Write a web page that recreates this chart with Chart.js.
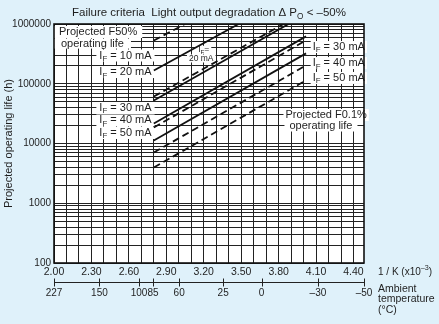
<!DOCTYPE html>
<html><head><meta charset="utf-8">
<script src="https://cdn.jsdelivr.net/npm/chart.js@4/dist/chart.umd.min.js"></script>
<style>
html,body{margin:0;padding:0;background:#dff1fa;}
#wrap{position:relative;width:439px;height:324px;}
</style></head>
<body><div id="wrap"><canvas id="c" width="439" height="324"></canvas></div>
<script>
// ---- data ----
const xTickLabels = ['2.00','2.30','2.60','2.90','3.20','3.50','3.80','4.10','4.40'];
const yTickLabels = ['100','1000','10000','100000','1000000'];
const tempValues = [227,150,100,85,60,25,0,-30,-50];
const tempLabels = ['227','150','100','85','60','25','0','–30','–50'];

// F50% projected life (solid lines): [start, end] in 1/K (x10^-3) and hours
const f50Currents = ['20 mA','30 mA','40 mA','50 mA'];
const f50X    = [[2.80,3.48],[2.80,3.88],[2.80,4.02],[2.80,4.02]];
const f50Life = [[167000,1000000],[52500,1000000],[21600,621000],[11200,322000]];

// F0.1% projected life (dashed lines)
const f01Currents = ['10 mA','20 mA','30 mA','40 mA','50 mA'];
const f01X    = [[2.80,3.05],[2.80,3.84],[2.80,4.02],[2.80,4.02],[2.80,4.02]];
const f01Life = [[530000,1000000],[61000,1000000],[18500,532000],[7060,203000],[3960,114000]];

// ---- helpers ----
const FAM = '"Liberation Sans", Arial, Helvetica, sans-serif';
const TXT = '#1e1e1e';
function fnt(s){ return s + 'px ' + FAM; }
function richWidth(ctx, parts, size){
  let w = 0;
  for (const [t,m] of parts){ ctx.font = fnt(m ? size*0.72 : size); w += ctx.measureText(t).width; }
  return w;
}
function drawRich(ctx, parts, x, y, size, align, box){
  const w = richWidth(ctx, parts, size);
  let sx = align === 'left' ? x : align === 'right' ? x - w : x - w/2;
  if (box){ ctx.fillStyle = '#fff'; ctx.fillRect(sx - box[0], y - box[1], w + 2*box[0], 2*box[1]); }
  ctx.fillStyle = TXT; ctx.textBaseline = 'middle'; ctx.textAlign = 'left';
  for (const [t,m] of parts){
    const s = m ? size*0.72 : size;
    ctx.font = fnt(s);
    const dy = m === 1 ? size*0.3 : m === 2 ? -size*0.35 : 0;
    ctx.fillText(t, sx, y + dy);
    sx += ctx.measureText(t).width;
  }
}
const IF = (v) => [['I',0],['F',1],[' = ' + v,0]];

// text annotations placed in data coordinates
const annotations = [
  {parts:[['Projected F50%',0]], x:2.04,  y:735000, align:'left',  size:11, box:[5,6]},
  {parts:[['operating life',0]], x:2.056, y:470000, align:'left',  size:11, box:[7,5]},
  {parts:IF('10 mA'), x:2.782, y:297000, align:'right', size:11, box:[3,6]},
  {parts:IF('20 mA'), x:2.782, y:157000, align:'right', size:11, box:[3,6]},
  {parts:IF('30 mA'), x:2.782, y:39300,  align:'right', size:11, box:[3,6]},
  {parts:IF('40 mA'), x:2.782, y:24300,  align:'right', size:11, box:[3,6]},
  {parts:IF('50 mA'), x:2.782, y:15000,  align:'right', size:11, box:[3,6]},
  {parts:[['I',0],['F',1],['=',0]], x:3.20, y:370000, align:'center', size:8.5, box:[2,4]},
  {parts:[['20 mA',0]], x:3.18, y:265000, align:'center', size:8.5, box:[2,4]},
  {parts:IF('30 mA'), x:4.073, y:412000, align:'left', size:11, box:[2,6]},
  {parts:IF('40 mA'), x:4.073, y:222000, align:'left', size:11, box:[2,6]},
  {parts:IF('50 mA'), x:4.073, y:125000, align:'left', size:11, box:[2,6]},
  {parts:[['Projected F0.1%',0]], x:3.855, y:30000, align:'left', size:11, box:[2,6]},
  {parts:[['operating life',0]], x:3.887, y:20000, align:'left', size:11, box:[5,6]}
];

// ---- datasets ----
const datasets = [];
f50Currents.forEach((c,i) => datasets.push({
  label:'F50% ' + c,
  data:[{x:f50X[i][0], y:f50Life[i][0]}, {x:f50X[i][1], y:f50Life[i][1]}],
  borderColor:'#111', borderWidth:1.8, pointRadius:0, showLine:true, clip:0
}));
f01Currents.forEach((c,i) => datasets.push({
  label:'F0.1% ' + c,
  data:[{x:f01X[i][0], y:f01Life[i][0]}, {x:f01X[i][1], y:f01Life[i][1]}],
  borderColor:'#111', borderWidth:1.8, borderDash:[7,4], pointRadius:0, showLine:true, clip:0
}));

const decor = {
  id:'decor',
  beforeDraw(chart){
    const {ctx, chartArea:a} = chart;
    ctx.save();
    ctx.fillStyle = '#dff1fa'; ctx.fillRect(0,0,chart.width,chart.height);
    ctx.fillStyle = '#fff'; ctx.fillRect(a.left, a.top, a.right-a.left, a.bottom-a.top);
    ctx.restore();
  },
  beforeDatasetsDraw(chart){
    const {ctx} = chart, xs = chart.scales.x, ys = chart.scales.y;
    ctx.save();
    for (const an of annotations){
      drawRich(ctx, an.parts, xs.getPixelForValue(an.x), ys.getPixelForValue(an.y), an.size, an.align, an.box);
    }
    ctx.restore();
  },
  afterDatasetsDraw(chart){
    const {ctx, chartArea:a} = chart;
    ctx.save();
    ctx.strokeStyle = '#111'; ctx.lineWidth = 1.6;
    ctx.strokeRect(a.left, a.top, a.right-a.left, a.bottom-a.top);
    ctx.restore();
  },
  afterDraw(chart){
    const {ctx, chartArea:a} = chart, xs = chart.scales.x;
    ctx.save();
    // title
    drawRich(ctx, [['Failure criteria  Light output degradation \u0394 P',0],['O',1],[' < \u201350%',0]],
             (a.left+a.right)/2, 13, 11.5, 'center', null);
    // temperature axis
    const yAx = 282;
    const px = tempValues.map(t => xs.getPixelForValue(1000/(t+273)));
    ctx.strokeStyle = '#222'; ctx.lineWidth = 1;
    ctx.beginPath(); ctx.moveTo(px[0], yAx+0.5); ctx.lineTo(px[px.length-1], yAx+0.5); ctx.stroke();
    px.forEach((p,i) => {
      const xx = Math.round(p)+0.5;
      ctx.beginPath(); ctx.moveTo(xx, yAx-3.5); ctx.lineTo(xx, yAx+4.5); ctx.stroke();
      ctx.font = fnt(10); ctx.fillStyle = TXT; ctx.textAlign = 'center'; ctx.textBaseline = 'middle';
      ctx.fillText(tempLabels[i], p, 293);
    });
    // right-hand captions
    const rx = a.right + 14;
    drawRich(ctx, [['1 / K (x10',0],['\u20133',2],[')',0]], rx, 272, 10, 'left', null);
    drawRich(ctx, [['Ambient',0]], rx, 289, 10.5, 'left', null);
    drawRich(ctx, [['temperature',0]], rx, 299.5, 10.5, 'left', null);
    drawRich(ctx, [['(\u00b0C)',0]], rx, 310, 10.5, 'left', null);
    ctx.restore();
  }
};

const xGrid = [];
for (let i = 0; i <= 24; i++) xGrid.push(+(2 + i*0.1).toFixed(2));
const yGrid = [];
yTickLabels.forEach((d, k) => {
  const base = +d;
  const top = k < yTickLabels.length-1 ? 9 : 1;
  for (let m = 1; m <= top; m++) yGrid.push(base*m);
});

new Chart(document.getElementById('c'), {
  type:'scatter',
  data:{datasets},
  plugins:[decor],
  options:{
    responsive:false, animation:false, devicePixelRatio:1,
    layout:{padding:{top:24, right:75, bottom:0, left:0}},
    plugins:{legend:{display:false}, tooltip:{enabled:false}, title:{display:false}},
    scales:{
      x:{
        type:'linear', min:2.0, max:1000/223,
        afterBuildTicks(s){ s.ticks = xGrid.map(v => ({value:v})); },
        afterFit(s){ s.height = 61; },
        ticks:{autoSkip:false, maxRotation:0, padding:3, color:TXT, font:{family:FAM, size:10.5},
          callback(v){ const t = (+v).toFixed(2); return xTickLabels.includes(t) ? t : ''; }},
        grid:{color:'#222', lineWidth:1, drawTicks:false},
        border:{display:false}
      },
      y:{
        type:'logarithmic', min:100, max:1000000,
        afterBuildTicks(s){ s.ticks = yGrid.map(v => ({value:v})); },
        afterFit(s){ s.width = 54; },
        ticks:{autoSkip:false, padding:3, color:TXT, font:{family:FAM, size:10},
          callback(v){ const t = String(Math.round(v)); return yTickLabels.includes(t) ? t : ''; }},
        grid:{color:'#222', lineWidth:1, drawTicks:false},
        border:{display:false},
        title:{display:true, text:'Projected operating life (h)', color:TXT, font:{family:FAM, size:11}, padding:{top:2, bottom:0}}
      }
    }
  }
});
</script></body></html>
